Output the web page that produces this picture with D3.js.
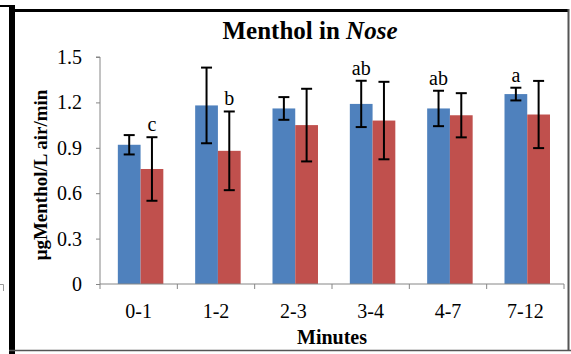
<!DOCTYPE html>
<html>
<head>
<meta charset="utf-8">
<script src="https://cdn.jsdelivr.net/npm/d3@7"></script>
<style>
  html, body { margin: 0; padding: 0; background: #fff; }
  svg { display: block; }
  svg text { font-family: "Times New Roman", "Liberation Serif", Times, serif !important; fill: #000; }
</style>
</head>
<body>
<svg id="chart" width="571" height="354"></svg>
<script>
// Time windows (minutes)
const categories = ["0-1", "1-2", "2-3", "3-4", "4-7", "7-12"];
// Two groups of measurements
const seriesNames = ["A", "B"];
const seriesA = [0.92, 1.18, 1.16, 1.19, 1.16, 1.255];
const seriesB = [0.76, 0.88, 1.05, 1.08, 1.115, 1.12];
const errA = [0.064, 0.25, 0.075, 0.153, 0.117, 0.042];
const errB = [0.21, 0.26, 0.24, 0.256, 0.146, 0.222];
// Significance letters: text and which series they sit over
const letters = ["c", "b", "", "ab", "ab", "a"];
const letterSeries = [1, 1, 0, 0, 0, 0];
const yTicks = [0, 0.3, 0.6, 0.9, 1.2, 1.5];

const colors = ["#4F81BD", "#C0504D"];
const values = [seriesA, seriesB];
const errors = [errA, errB];
const serif = "'Times New Roman', 'Liberation Serif', Times, serif";

const svg = d3.select("#chart");
const plot = { left: 100, right: 564, top: 57, bottom: 284 };

const x0 = d3.scaleBand().domain(categories).range([plot.left, plot.right]).padding(0);
const x1 = d3.scaleBand().domain(seriesNames).range([0, x0.bandwidth()])
  .paddingInner(0).paddingOuter(0.7).align(0.56);
const y = d3.scaleLinear().domain([0, 1.5]).range([plot.bottom, plot.top]);

// Outer frame
svg.append("path").attr("d", "M0,6 H12").attr("stroke", "#000").attr("stroke-width", 2).attr("fill", "none");
svg.append("line").attr("x1", 12).attr("x2", 12).attr("y1", 5).attr("y2", 354)
  .attr("stroke", "#000").attr("stroke-width", 6);
svg.append("line").attr("x1", 12).attr("x2", 569).attr("y1", 10.5).attr("y2", 10.5)
  .attr("stroke", "#000").attr("stroke-width", 3);
svg.append("line").attr("x1", 568.5).attr("x2", 568.5).attr("y1", 9).attr("y2", 351)
  .attr("stroke", "#555").attr("stroke-width", 2);
svg.append("line").attr("x1", 9).attr("x2", 571).attr("y1", 350.5).attr("y2", 350.5)
  .attr("stroke", "#555").attr("stroke-width", 1.5);
svg.append("path").attr("d", "M0,284.5 H3.5 V291").attr("stroke", "#999").attr("stroke-width", 1).attr("fill", "none");

// Bars
const groups = svg.append("g").selectAll("g").data(categories).join("g")
  .attr("transform", d => `translate(${x0(d)},0)`);

seriesNames.forEach((s, si) => {
  groups.append("rect")
    .attr("x", x1(s))
    .attr("width", x1.bandwidth())
    .attr("y", (d, i) => y(values[si][i]))
    .attr("height", (d, i) => y(0) - y(values[si][i]))
    .attr("fill", colors[si]);
});

// Error bars
const cap = 5.5;
seriesNames.forEach((s, si) => {
  const cx = x1(s) + x1.bandwidth() / 2;
  const eb = groups.append("g").attr("stroke", "#000").attr("stroke-width", 2).attr("fill", "none");
  eb.append("line").attr("x1", cx).attr("x2", cx)
    .attr("y1", (d, i) => y(values[si][i] + errors[si][i]))
    .attr("y2", (d, i) => y(values[si][i] - errors[si][i]));
  eb.append("line").attr("x1", cx - cap).attr("x2", cx + cap)
    .attr("y1", (d, i) => y(values[si][i] + errors[si][i]))
    .attr("y2", (d, i) => y(values[si][i] + errors[si][i]));
  eb.append("line").attr("x1", cx - cap).attr("x2", cx + cap)
    .attr("y1", (d, i) => y(values[si][i] - errors[si][i]))
    .attr("y2", (d, i) => y(values[si][i] - errors[si][i]));
});

// Significance letters
groups.append("text")
  .attr("x", (d, i) => x1(seriesNames[letterSeries[i]]) + x1.bandwidth() / 2)
  .attr("y", (d, i) => {
    const si = letterSeries[i];
    return y(values[si][i] + errors[si][i]) - 6;
  })
  .attr("text-anchor", "middle")
  .style("font-family", serif)
  .style("font-size", "20px")
  .text((d, i) => letters[i]);

// Axes
const axisColor = "#868686";
const yAxis = svg.append("g").attr("transform", `translate(${plot.left},0)`)
  .call(d3.axisLeft(y).tickValues(yTicks).tickSize(4).tickPadding(14)
    .tickFormat(d => d === 0 ? "0" : d3.format(".1f")(d)))
  .attr("font-family", serif);
yAxis.select(".domain").attr("stroke", axisColor).attr("d", `M-4,${plot.top}H0V${plot.bottom}`);
yAxis.selectAll(".tick line").attr("stroke", axisColor);
yAxis.selectAll(".tick text").style("font-size", "20px")
  .style("font-family", serif).attr("fill", "#000");

const xAxis = svg.append("g").attr("transform", `translate(0,${plot.bottom})`)
  .call(d3.axisBottom(x0).tickSize(0).tickPadding(20))
  .attr("font-family", serif);
xAxis.select(".domain").attr("stroke", axisColor).attr("d", `M${plot.left},0H${plot.right}`);
xAxis.selectAll(".tick text").style("font-size", "20px")
  .style("font-family", serif).attr("fill", "#000");
// category boundary ticks
xAxis.append("g").selectAll("line").data(d3.range(categories.length + 1)).join("line")
  .attr("x1", i => plot.left + i * x0.step()).attr("x2", i => plot.left + i * x0.step())
  .attr("y1", 0).attr("y2", 5).attr("stroke", axisColor);

// Titles
const title = svg.append("text").attr("x", 310).attr("y", 39)
  .attr("text-anchor", "middle").style("font-family", serif)
  .style("font-size", "25px").style("font-weight", "bold");
title.append("tspan").text("Menthol in ");
title.append("tspan").style("font-style", "italic").text("Nose");

svg.append("text").attr("x", 332).attr("y", 344).attr("text-anchor", "middle")
  .style("font-family", serif)
  .style("font-size", "20px").style("font-weight", "bold").text("Minutes");

svg.append("text").attr("transform", "translate(47,175) rotate(-90)")
  .attr("text-anchor", "middle").style("font-family", serif)
  .style("font-size", "19px").style("font-weight", "bold")
  .text("μgMenthol/L air/min");
</script>
</body>
</html>
